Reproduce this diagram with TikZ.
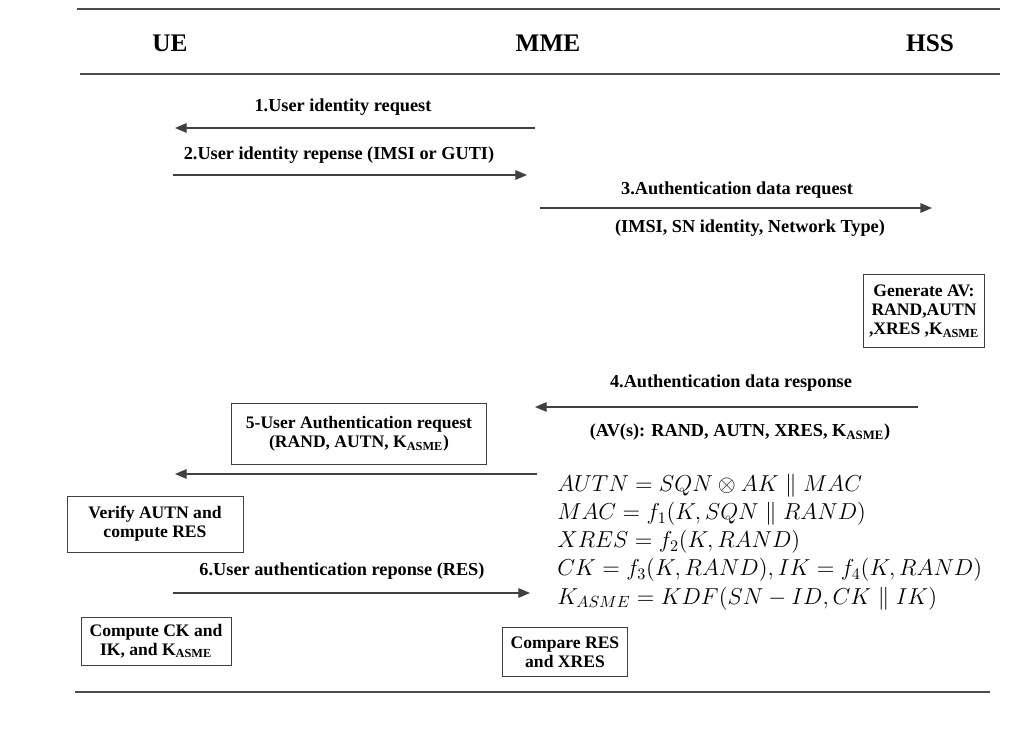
\RequirePackage{fix-cm}
\documentclass[tikz,border=0pt]{standalone}
\usepackage[no-math]{fontspec}
\setmainfont{Liberation Serif}
\usetikzlibrary{positioning,arrows}

\begin{document}
\begin{tikzpicture}[x=0.025cm,y=-0.025cm,
	rule/.style={draw=black!70,line width=0.9pt},
	msg/.style={draw=black!75,line width=0.9pt,-triangle 45},
	lbl/.style={font=\bfseries\fontsize{13}{14}\selectfont,inner sep=1pt},
	box/.style={rectangle,draw=black!75,line width=0.7pt,align=center,inner sep=2pt,font=\bfseries\fontsize{12.5}{13.5}\selectfont},
	head/.style={font=\bfseries\fontsize{18}{20}\selectfont}]
\useasboundingbox (0,0) rectangle (1015,741);

% frame rules
\coordinate (topL) at (77,9);   \coordinate (topR) at (1000,9);
\coordinate (midL) at (80,74);  \coordinate (midR) at (1000,74);
\coordinate (botL) at (75,692); \coordinate (botR) at (990,692);
\draw [rule] (topL) -- (topR);
\draw [rule] (midL) -- (midR);
\draw [rule] (botL) -- (botR);

% entities
\node [head] (ue) at (170,43) {UE};
\node [head] (mme) at (548,43) {MME};
\node [head] (hss) at (930,43) {HSS};

% message end points
\coordinate (m1s) at (535,128); \coordinate (m1e) at (175,128);
\coordinate (m2s) at (173,175); \coordinate (m2e) at (527,175);
\coordinate (m3s) at (540,208); \coordinate (m3e) at (932,208);
\coordinate (m4s) at (918,407); \coordinate (m4e) at (535,407);
\coordinate (m5s) at (537,474); \coordinate (m5e) at (175,474);
\coordinate (m6s) at (173,593); \coordinate (m6e) at (530,593);

\draw [msg] (m1s) -- (m1e);
\draw [msg] (m2s) -- (m2e);
\draw [msg] (m3s) -- (m3e);
\draw [msg] (m4s) -- (m4e);
\draw [msg] (m5s) -- (m5e);
\draw [msg] (m6s) -- (m6e);

% message labels
\node [lbl] (l1) at (343,107) {1.User identity request};
\node [lbl] (l2) at (339,155) {2.User identity repense (IMSI or GUTI)};
\node [lbl] (l3) at (737,190) {3.Authentication data request};
\node [lbl] (l3b) at (750,228) {(IMSI, SN identity, Network Type)};
\node [lbl] (l4) at (731,383) {4.Authentication data response};
\node [lbl] (l4b) at (740,432) {(AV(s): RAND, AUTN, XRES, K\textsubscript{ASME})};
\node [lbl] (l6) at (342,571) {6.User authentication reponse (RES)};

% processing boxes
\node [box,minimum width=121*0.025cm,minimum height=73*0.025cm] (genav) at (924,311)
	{Generate AV:\\RAND,AUTN\\,XRES ,K\textsubscript{ASME}};
\node [box,minimum width=255*0.025cm,minimum height=61*0.025cm] (uareq) at (359,434)
	{5-User Authentication request\\(RAND, AUTN, K\textsubscript{ASME})};
\node [box,minimum width=176*0.025cm,minimum height=56*0.025cm] (verify) at (155,524)
	{Verify AUTN and\\compute RES};
\node [box,minimum width=150*0.025cm,minimum height=48*0.025cm] (compck) at (156,641)
	{Compute CK and\\IK, and K\textsubscript{ASME}};
\node [box,minimum width=125*0.025cm,minimum height=49*0.025cm] (comp) at (565,652)
	{Compare RES\\and XRES};

% key derivation
\node [anchor=north west,align=left,inner sep=0pt,font=\fontsize{16.4}{20}\selectfont] (keys) at (557,474)
	{$AUTN = SQN \otimes AK \parallel MAC$\\
	 $MAC = f_1(K, SQN \parallel RAND)$\\
	 $XRES = f_2(K, RAND)$\\
	 $CK = f_3(K, RAND), IK = f_4(K, RAND)$\\
	 $K_{ASME} = KDF(SN - ID, CK \parallel IK)$};
\end{tikzpicture}
\end{document}
